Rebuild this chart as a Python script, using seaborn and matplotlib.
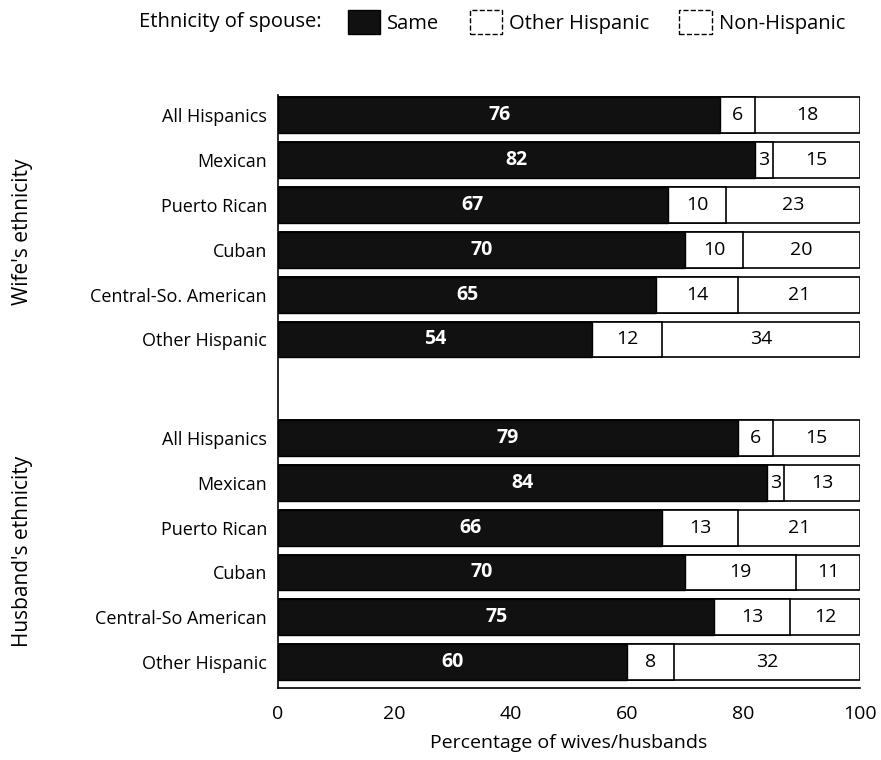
import numpy as np
import pandas as pd
import matplotlib.pyplot as plt
import seaborn as sns
from matplotlib.patches import Patch

categories = ["All Hispanics", "Mexican", "Puerto Rican", "Cuban",
              "Central-So. American", "Other Hispanic"]
husband_categories = ["All Hispanics", "Mexican", "Puerto Rican", "Cuban",
                      "Central-So American", "Other Hispanic"]

wife_same = [76, 82, 67, 70, 65, 54]
wife_other = [6, 3, 10, 10, 14, 12]
wife_non = [18, 15, 23, 20, 21, 34]

husband_same = [79, 84, 66, 70, 75, 60]
husband_other = [6, 3, 13, 19, 13, 8]
husband_non = [15, 13, 21, 11, 12, 32]

sns.set_theme(style="white")
plt.rcParams["font.family"] = ["Open Sans", "DejaVu Sans"]
plt.rcParams.update({"text.color": "black", "axes.labelcolor": "black",
                     "xtick.color": "black", "ytick.color": "black"})

# row positions: wives on top, a gap, then husbands
gap = 2.2
pos = list(range(6)) + [6 + gap - 1 + i for i in range(6)]
df = pd.DataFrame({
    "pos": pos,
    "label": categories + husband_categories,
    "same": wife_same + husband_same,
    "other": wife_other + husband_other,
    "non": wife_non + husband_non,
})
df["s_o"] = df["same"] + df["other"]
df["total"] = df["s_o"] + df["non"]

fig = plt.figure(figsize=(8.81, 7.6), dpi=100)
ax = fig.add_axes([0.3156, 0.0947, 0.6604, 0.780])

# layered bars: total (non-Hispanic), same+other, same
sns.barplot(data=df, x="total", y="pos", orient="h", native_scale=True,
            color="white", edgecolor="black", linewidth=1.2, width=0.8,
            saturation=1, ax=ax)
sns.barplot(data=df, x="s_o", y="pos", orient="h", native_scale=True,
            color="white", edgecolor="black", linewidth=1.2, width=0.8,
            saturation=1, ax=ax)
sns.barplot(data=df, x="same", y="pos", orient="h", native_scale=True,
            color="#111111", edgecolor="black", linewidth=1.0, width=0.8,
            saturation=1, ax=ax)

# value labels
for _, r in df.iterrows():
    ax.text(r["same"] / 2, r["pos"], str(r["same"]), color="white",
            fontsize=14, fontweight="bold", ha="center", va="center")
    ax.text(r["same"] + r["other"] / 2, r["pos"], str(r["other"]),
            color="black", fontsize=14, ha="center", va="center")
    ax.text(r["s_o"] + r["non"] / 2, r["pos"], str(r["non"]),
            color="black", fontsize=14, ha="center", va="center")

ax.set_xlim(0, 100)
ax.set_ylim(12.78, -0.45)
ax.set_yticks(df["pos"])
ax.set_yticklabels(df["label"], fontsize=13)
ax.tick_params(axis="y", length=0, pad=8)
ax.set_xticks([0, 20, 40, 60, 80, 100])
ax.tick_params(axis="x", direction="in", length=5, width=1, labelsize=14,
               pad=12, color="black")
ax.set_xlabel("Percentage of wives/husbands", fontsize=14, labelpad=8)
ax.set_ylabel("")
for side in ["top", "right"]:
    ax.spines[side].set_visible(False)
for side in ["left", "bottom"]:
    ax.spines[side].set_color("black")
    ax.spines[side].set_linewidth(1.2)

fig.text(23 / 881, 1 - 232 / 760, "Wife's ethnicity", rotation=90,
         ha="center", va="center", fontsize=15)
fig.text(23 / 881, 1 - 551 / 760, "Husband's ethnicity", rotation=90,
         ha="center", va="center", fontsize=15)

# legend at the top
fig.text(322 / 881, 1 - 22 / 760, "Ethnicity of spouse:", ha="right",
         va="center", fontsize=14.5)
handles = [Patch(facecolor="#111111", edgecolor="black", label="Same"),
           Patch(facecolor="white", edgecolor="black", linestyle="--", label="Other Hispanic"),
           Patch(facecolor="white", edgecolor="black", linestyle="--", label="Non-Hispanic")]
fig.legend(handles=handles, ncol=3, frameon=False, loc="center left",
           bbox_to_anchor=(348 / 881, 1 - 22 / 760), fontsize=14.5,
           handlelength=1.6, handleheight=1.45, handletextpad=0.35,
           columnspacing=1.5, borderaxespad=0, borderpad=0)

fig.savefig("out.png", dpi=100)
